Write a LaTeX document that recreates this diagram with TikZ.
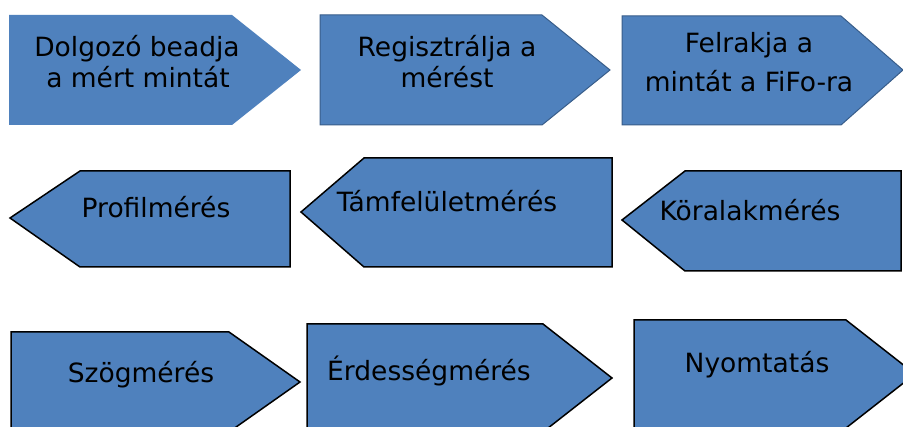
\documentclass[tikz,border=0pt]{standalone}
\usepackage{fontspec}
\setmainfont{DejaVu Sans}
\definecolor{boxfill}{HTML}{4F81BD}
\definecolor{boxedge}{HTML}{385D8A}
\tikzset{
  stagebox/.style={fill=boxfill, draw=black, line width=1.5pt, line join=miter},
  bluebox/.style={fill=boxfill, draw=boxedge, line width=1pt, line join=miter},
  plainbox/.style={fill=boxfill, draw=none},
  label/.style={anchor=base, inner sep=0pt, font=\fontsize{26.5}{31}\selectfont, text=black},
}
\begin{document}
\begin{tikzpicture}[x=1pt, y=-1pt]
  \useasboundingbox (0,0) rectangle (903,427);
  \clip (0,0) rectangle (903,427);
  \fill[white] (0,0) rectangle (903,427);

  % first row: pointing right
  \path[plainbox] (9,15) -- (232,15) -- (301,70) -- (232,125) -- (9,125) -- cycle;
  \path[bluebox] (320,15) -- (542,15) -- (610,70) -- (542,125) -- (320,125) -- cycle;
  \path[bluebox] (622,16) -- (841,16) -- (903,70) -- (841,125) -- (622,125) -- cycle;

  \node[label] (t1a) at (137,57) {Dolgozó beadja};
  \node[label] (t1b) at (138,88) {a mért mintát};
  \node[label] (t2a) at (447,57) {Regisztrálja a};
  \node[label] (t2b) at (447,88) {mérést};
  \node[label] (t3a) at (749,53) {Felrakja a};
  \node[label] (t3b) at (749,92) {mintát a FiFo-ra};

  % second row: pointing left
  \path[stagebox] (10,218) -- (80,171) -- (290,171) -- (290,267) -- (80,267) -- cycle;
  \path[stagebox] (301,212) -- (364,158) -- (612,158) -- (612,267) -- (364,267) -- cycle;
  \path[stagebox] (622,220) -- (685,171) -- (901,171) -- (901,271) -- (685,271) -- cycle;

  \node[label] (t4) at (156,218) {Profilmérés};
  \node[label] (t5) at (447,212) {Támfelületmérés};
  \node[label] (t6) at (750,221) {Köralakmérés};

  % third row: pointing right, lower edge runs off the page
  \path[stagebox] (11,332) -- (229,332) -- (300,382) -- (229,432) -- (11,432) -- cycle;
  \path[stagebox] (307,324) -- (543,324) -- (612,378) -- (543,432) -- (307,432) -- cycle;
  \path[stagebox] (634,320) -- (846,320) -- (915,374) -- (846,428) -- (634,428) -- cycle;

  \node[label] (t7) at (141,383) {Szögmérés};
  \node[label] (t8) at (429,381) {Érdességmérés};
  \node[label] (t9) at (757,373) {Nyomtatás};
\end{tikzpicture}
\end{document}
